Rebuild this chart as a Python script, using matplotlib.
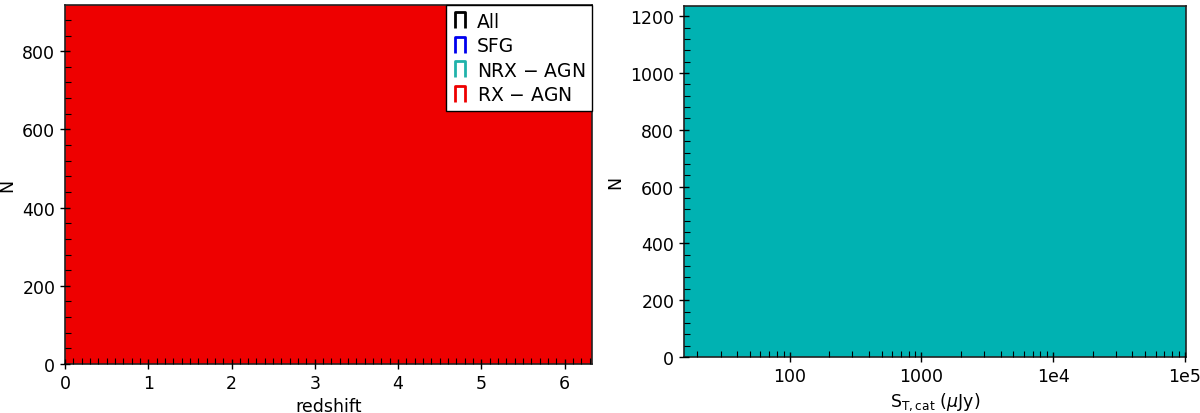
import matplotlib
matplotlib.use("Agg")
import matplotlib.pyplot as plt
from matplotlib.lines import Line2D
from matplotlib.path import Path
from matplotlib.ticker import MultipleLocator, FixedLocator, FixedFormatter, LogLocator, NullFormatter

# histogram data (counts run off the top of both panels)
z_edges = [0.0, 0.5, 1.0, 1.5, 2.0, 2.5, 3.0, 3.5, 4.0, 4.5, 5.0, 5.5, 6.0, 6.5]
z_counts_rx = [1500, 1500, 1500, 1500, 1500, 1500, 1500, 1500, 1500, 1500, 1500, 1500, 1500]

s_edges = [10, 30, 100, 300, 1000, 3000, 1e4, 3e4, 1e5, 3e5]
s_counts_nrx = [2000, 2000, 2000, 2000, 2000, 2000, 2000, 2000, 2000]

classes = ["All", "SFG", r"NRX $-$ AGN", r"RX $-$ AGN"]
class_colors = ["black", "#0000ee", "#20b2aa", "#ee0000"]

s_ticks = [100, 1000, 1e4, 1e5]
s_ticklabels = ["100", "1000", "1e4", "1e5"]

plt.rcParams["font.size"] = 12
plt.rcParams["mathtext.fontset"] = "dejavusans"

fig = plt.figure(figsize=(12, 4.14), dpi=100)
ax1 = fig.add_axes([65 / 1200, 1 - 365 / 414, (592 - 65) / 1200, (365 - 6) / 414])
ax2 = fig.add_axes([684 / 1200, 1 - 358 / 414, (1186 - 684) / 1200, (358 - 7) / 414])

# left: redshift
ax1.stairs(z_counts_rx, z_edges, fill=True, color="#ee0000")
ax1.set_xlim(0, 6.33)
ax1.set_ylim(0, 918)
ax1.xaxis.set_major_locator(MultipleLocator(1))
ax1.xaxis.set_minor_locator(MultipleLocator(0.1))
ax1.yaxis.set_major_locator(MultipleLocator(200))
ax1.yaxis.set_minor_locator(MultipleLocator(40))
ax1.set_xlabel("redshift", fontsize=12.5)
ax1.set_ylabel("N", fontsize=12.5)

# legend with open-bottom step handles
step = Path([(-0.65, -1), (-0.65, 1), (0.65, 1), (0.65, -1)],
            [Path.MOVETO, Path.LINETO, Path.LINETO, Path.LINETO])
handles = [Line2D([], [], linestyle="none", marker=step, markersize=11,
                  markerfacecolor="none", markeredgecolor=c, markeredgewidth=2)
           for c in class_colors]
leg = ax1.legend(handles, classes, loc="upper right", fancybox=False,
                 edgecolor="black", framealpha=1, handlelength=0.8,
                 handletextpad=0.5, borderaxespad=0.0, fontsize=13.5,
                 labelspacing=0.3, borderpad=0.35)
leg.get_frame().set_linewidth(1.0)

# right: flux
ax2.stairs(s_counts_nrx, s_edges, fill=True, color="#00b2b2")
ax2.set_xscale("log")
ax2.set_xlim(15.8, 1.02e5)
ax2.set_ylim(0, 1236)
ax2.xaxis.set_major_locator(FixedLocator(s_ticks))
ax2.xaxis.set_major_formatter(FixedFormatter(s_ticklabels))
ax2.xaxis.set_minor_locator(LogLocator(base=10, subs=range(2, 10), numticks=20))
ax2.xaxis.set_minor_formatter(NullFormatter())
ax2.yaxis.set_major_locator(MultipleLocator(200))
ax2.yaxis.set_minor_locator(MultipleLocator(40))
ax2.set_xlabel(r"S$_{\mathrm{T,cat}}$ ($\mu$Jy)", fontsize=12.5)
ax2.set_ylabel("N", fontsize=12.5)

for ax in (ax1, ax2):
    ax.tick_params(which="major", direction="inout", length=7, width=1, labelsize=12.5)
    ax.tick_params(which="minor", direction="in", length=4, width=0.8)
    for sp in ax.spines.values():
        sp.set_linewidth(1.2)
        sp.set_color("#222222")
    ax.set_axisbelow(False)

fig.savefig("out.png", dpi=100)
